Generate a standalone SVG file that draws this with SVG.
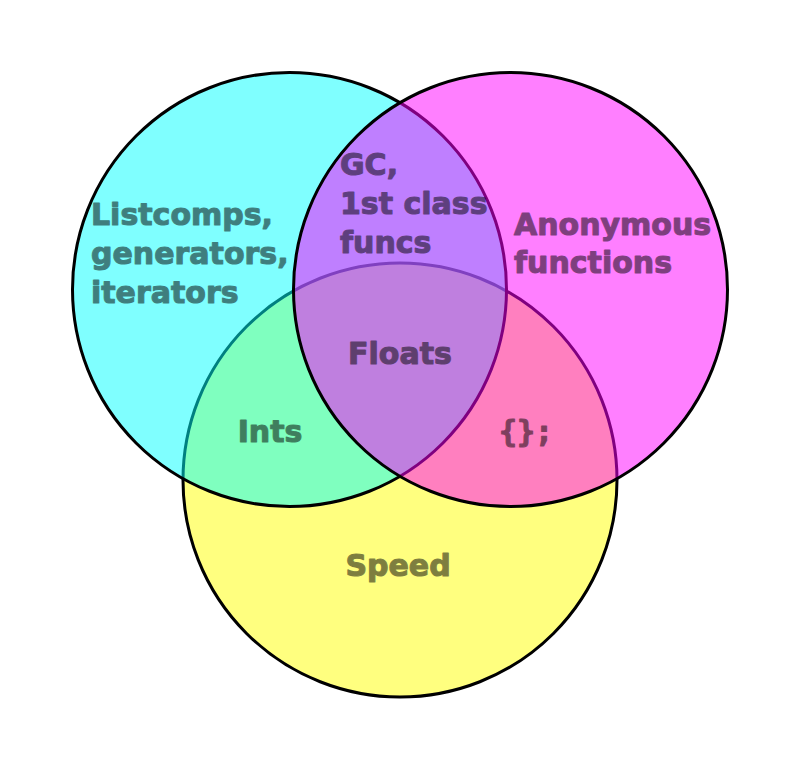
<svg xmlns="http://www.w3.org/2000/svg" width="800" height="769" viewBox="0 0 800 769">
<style>
.c{stroke:#000;stroke-width:3;fill-opacity:0.5}
.t{font-family:"DejaVu Sans",Verdana,sans-serif;font-weight:bold;font-size:30px;fill:#000;stroke:#000;stroke-width:1.1;stroke-linejoin:round}
.m{font-family:"DejaVu Sans Mono",monospace;font-weight:bold;font-size:30px;fill:#000;stroke:#000;stroke-width:1.1;stroke-linejoin:round}
</style>
<rect width="800" height="769" fill="#fff"/>
<g id="speed"><circle class="c" cx="400" cy="480" r="217" fill="#ffff00"/></g>
<g id="python"><circle class="c" cx="289.5" cy="289.5" r="217" fill="#00ffff"/></g>
<g id="js"><circle class="c" cx="510.5" cy="289.5" r="217" fill="#ff00ff"/></g>
<g id="labels" opacity="0.5">
<text class="t" x="91" y="225">Listcomps,</text>
<text class="t" x="91" y="264">generators,</text>
<text class="t" x="91" y="303">iterators</text>
<text class="t" x="340" y="175">GC,</text>
<text class="t" x="340" y="214">1st class</text>
<text class="t" x="340" y="253">funcs</text>
<text class="t" x="514" y="235">Anonymous</text>
<text class="t" x="514" y="273">functions</text>
<text class="t" x="400" y="364" text-anchor="middle">Floats</text>
<text class="t" x="270" y="442" text-anchor="middle">Ints</text>
<text class="m" x="526" y="442" text-anchor="middle">{};</text>
<text class="t" x="398" y="576" text-anchor="middle">Speed</text>
</g>
</svg>
